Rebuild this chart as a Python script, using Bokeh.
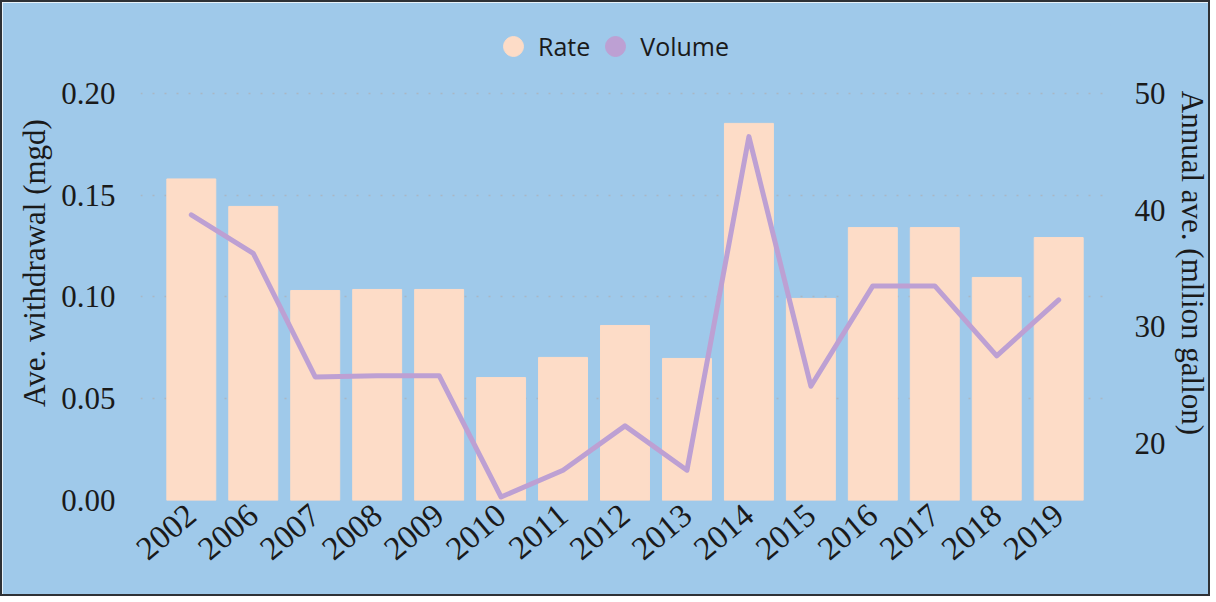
from bokeh.plotting import figure
from bokeh.models import (ColumnDataSource, Range1d, LinearAxis, Legend, LegendItem,
                          FactorRange, FixedTicker, PrintfTickFormatter)
from bokeh.embed import file_html
from bokeh.resources import INLINE

years = ["2002", "2006", "2007", "2008", "2009", "2010", "2011", "2012", "2013",
         "2014", "2015", "2016", "2017", "2018", "2019"]
rate = [0.158, 0.1445, 0.1032, 0.1037, 0.1037, 0.0604, 0.0703, 0.086, 0.0698,
        0.1853, 0.0993, 0.1341, 0.1341, 0.1096, 0.1292]
volume = [39.6, 36.3, 25.7, 25.8, 25.8, 15.4, 17.7, 21.5, 17.7,
          46.3, 24.9, 33.5, 33.5, 27.5, 32.3]
left_ticks = [0.0, 0.05, 0.10, 0.15, 0.20]
right_ticks = [20, 30, 40, 50]

BG = "#9fc9ea"
BAR = "#fddcc7"
LINE = "#bda0d3"
SERIF = "Liberation Serif"

src = ColumnDataSource(dict(year=years, rate=rate, volume=volume))

p = figure(width=1210, height=596, output_backend="svg", toolbar_location=None,
           x_range=FactorRange(*years, range_padding=0.32, range_padding_units="absolute"),
           y_range=Range1d(0, 0.2334),
           background_fill_color=BG, border_fill_color=BG,
           min_border_left=138, min_border_right=99, min_border_top=23, min_border_bottom=98)
p.styles = {"border": "2px solid #2e3136"}
p.outline_line_color = BG
p.outline_line_width = 3

p.extra_y_ranges = {"vol": Range1d(15.1, 55.83)}

p.vbar(x="year", top="rate", width=0.79, source=src, color=BAR)
p.line(x="year", y="volume", source=src, y_range_name="vol", line_color=LINE,
       line_width=5, line_join="round", line_cap="round")

# grid
p.xgrid.grid_line_color = None
p.ygrid.grid_line_color = "#a9b7c4"
p.ygrid.grid_line_dash = "2 10"
p.ygrid.grid_line_width = 1.5
p.ygrid.ticker = FixedTicker(ticks=left_ticks)

# left axis
ya = p.yaxis[0]
ya.ticker = FixedTicker(ticks=left_ticks)
ya.formatter = PrintfTickFormatter(format="%.2f")
ya.axis_label = "Ave. withdrawal (mgd)"

# right axis
ra = LinearAxis(y_range_name="vol", ticker=FixedTicker(ticks=right_ticks),
                axis_label="Annual ave. (mllion gallon)")
p.add_layout(ra, "right")

for ax in [ya, ra, p.xaxis[0]]:
    ax.axis_line_color = None
    ax.major_tick_line_color = None
    ax.minor_tick_line_color = None
    ax.major_label_text_font = SERIF
    ax.major_label_text_font_size = "31px"
    ax.major_label_text_color = "#1a1a1a"
    ax.axis_label_text_font = SERIF
    ax.axis_label_text_font_size = "31px"
    ax.axis_label_text_font_style = "normal"
    ax.axis_label_text_color = "#1a1a1a"
    ax.major_label_standoff = 19

ya.axis_label_standoff = 6
ra.axis_label_standoff = 6
p.xaxis[0].major_label_text_font_size = "33px"
p.xaxis[0].major_label_orientation = 0.7
p.xaxis[0].major_label_standoff = 4

# legend (placeholder renderers with no visible points, drawn as round dots)
nan = float("nan")
d1 = p.scatter(x=years[:1], y=[nan], marker="circle", color=BAR)
d2 = p.scatter(x=years[:1], y=[nan], marker="circle", color=LINE)
leg = Legend(items=[LegendItem(label="Rate", renderers=[d1]),
                    LegendItem(label="Volume", renderers=[d2])],
             orientation="horizontal", location=(348, 429),
             glyph_width=50, glyph_height=50, label_height=50, label_standoff=0, spacing=0,
             label_text_font="Open Sans", label_text_font_size="25px",
             label_text_color="#1a1a1a", background_fill_alpha=0,
             border_line_color=None, margin=0, padding=0)
p.add_layout(leg, "center")

open("out.html", "w").write(file_html(p, INLINE))
